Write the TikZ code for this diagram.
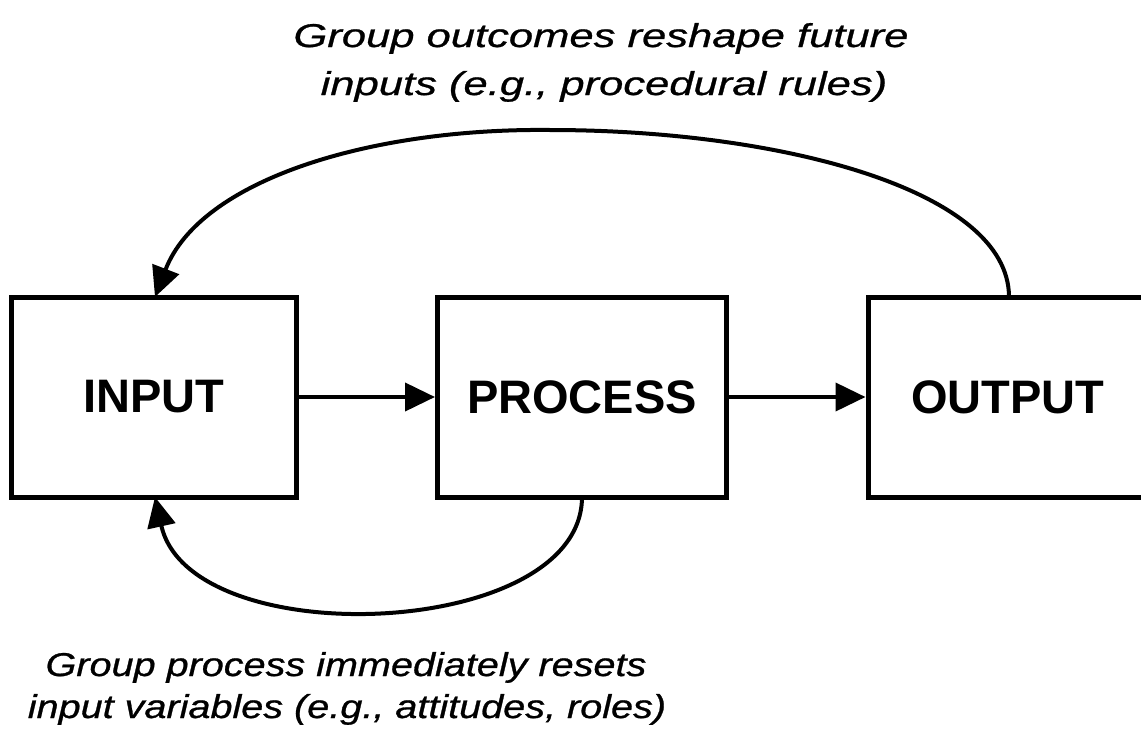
\documentclass[tikz,border=0pt]{standalone}
\usepackage{fontspec}
\setmainfont{Liberation Sans}
\newfontfamily\topcapfont[FakeStretch=1.32,FakeBold=0.8]{Liberation Sans}
\newfontfamily\botcapfont[FakeStretch=1.20,FakeBold=0.8]{Liberation Sans}
\usetikzlibrary{arrows.meta}
\begin{document}
\begin{tikzpicture}[x=1pt,y=-1pt,
  blk/.style={draw,line width=5pt,minimum width=285pt,minimum height=200pt,inner sep=0pt,font=\fontsize{47}{50}\selectfont\bfseries},
  conn/.style={line width=4pt,-{Triangle[length=30pt,width=28pt]}},
  toptext/.style={anchor=base,inner sep=0pt,font=\topcapfont\fontsize{33}{40}\selectfont\itshape},
  bottext/.style={anchor=base,inner sep=0pt,font=\botcapfont\fontsize{33}{40}\selectfont\itshape}]
\useasboundingbox (0,0) rectangle (1141,731);
\node[blk] (in) at (154,397) {INPUT};
\node[blk,minimum width=289pt] (pr) at (582,397) {PROCESS};
\node[blk,minimum width=280pt] (out) at (1008,397) {OUTPUT};
\coordinate (intop) at (155,297);
\coordinate (inbot) at (155,497);
\coordinate (outtop) at (1009,297);
\coordinate (prbot) at (582,497);
\coordinate (peak) at (550,130);
\draw[conn] (in.east) -- (pr.west);
\draw[conn] (pr.east) -- (out.west);
\draw[conn] (outtop) .. controls (1009,190) and (780,130) .. (peak)
  .. controls (370,128) and (200,180) .. (intop);
\draw[conn] (prbot) .. controls (582,640) and (190,655) .. (inbot);
\node[toptext] (t1) at (601,47) {Group outcomes reshape future};
\node[toptext] (t2) at (604,95) {inputs (e.g., procedural rules)};
\node[bottext] (t3) at (346,676) {Group process immediately resets};
\node[bottext] (t4) at (347,718) {input variables (e.g., attitudes, roles)};
\end{tikzpicture}
\end{document}
